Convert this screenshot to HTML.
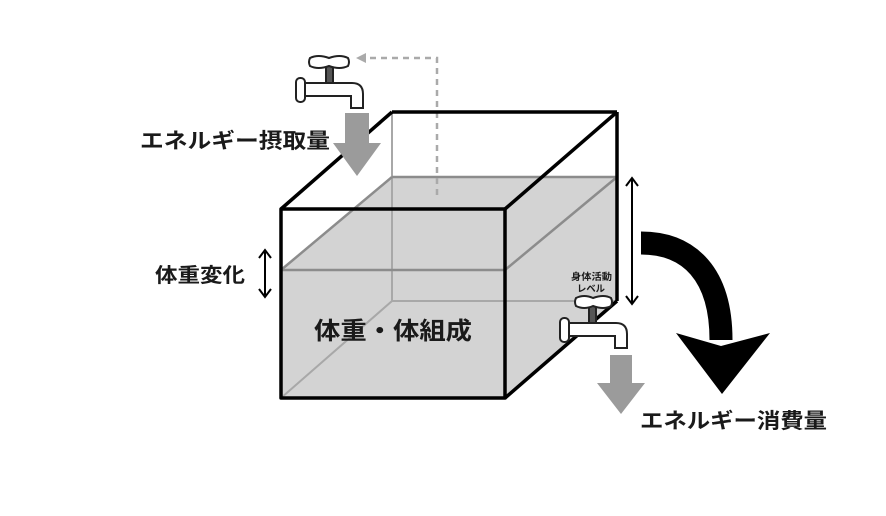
<!DOCTYPE html>
<html><head><meta charset="utf-8"><style>
html,body{margin:0;padding:0;background:#fff;}
svg{display:block;}
text{font-family:"Liberation Sans","Noto Sans CJK JP",sans-serif;fill:#1a1a1a;font-weight:bold;}
</style></head><body>
<svg width="886" height="516" viewBox="0 0 886 516" xmlns="http://www.w3.org/2000/svg">
<rect width="886" height="516" fill="#fff"/>
<polygon points="281,270 392,177 617,177 617,301 505,398 281,398" fill="#d3d3d3"/>
<g stroke="#a8a8a8" stroke-width="2" fill="none">
<line x1="392" y1="177" x2="392" y2="301"/>
<line x1="392" y1="301" x2="617" y2="301"/>
<line x1="281" y1="398" x2="392" y2="301"/>
<line x1="392" y1="112" x2="392" y2="177"/>
</g>
<g stroke="#8c8c8c" stroke-width="2.5" fill="none">
<line x1="281" y1="270" x2="505" y2="270"/>
<line x1="281" y1="270" x2="392" y2="177"/>
<line x1="392" y1="177" x2="617" y2="177"/>
<line x1="505" y1="270" x2="617" y2="177"/>
</g>
<polyline points="437,195 437,58 362,58" fill="none" stroke="#aaa" stroke-width="2.5" stroke-dasharray="6,5"/>
<polygon points="356,58 366,53 366,63" fill="#aaa"/>
<g stroke="#000" stroke-width="3.5" fill="none" stroke-linejoin="round">
<rect x="281" y="209" width="224" height="189"/>
<line x1="281" y1="209" x2="392" y2="112"/>
<line x1="392" y1="112" x2="617" y2="112"/>
<line x1="505" y1="209" x2="617" y2="112"/>
<line x1="617" y1="112" x2="617" y2="301"/>
<line x1="505" y1="398" x2="617" y2="301"/>
</g>
<g stroke="#222" stroke-width="2" fill="#fff">
<rect x="296" y="78" width="9" height="24" rx="4"/>
<path d="M305,83 H352 Q363,83 363,94 V108 H351 V96 H305 Z"/>
<rect x="326" y="66" width="7" height="17" fill="#555"/>
<path d="M310,58 Q318,54 329,58 Q340,54 348,58 Q350,62 348,66 Q340,70 329,66 Q318,70 310,66 Q308,62 310,58 Z"/>
</g>
<polygon points="345,113 369,113 369,143 381,143 357,176 333,143 345,143" fill="#9b9b9b"/>
<g stroke="#222" stroke-width="2" fill="#fff">
<rect x="560" y="318" width="9" height="24" rx="4"/>
<path d="M569,323 H616 Q627,323 627,334 V348 H615 V336 H569 Z"/>
<rect x="589" y="306" width="7" height="17" fill="#555"/>
<path d="M576,298 Q584,294 593,298 Q604,294 611,298 Q613,302 611,306 Q604,310 593,306 Q584,310 576,306 Q574,302 576,298 Z"/>
</g>
<polygon points="610,355 632,355 632,383 645,383 621,414 597,383 610,383" fill="#9b9b9b"/>
<g stroke="#000" stroke-width="2" fill="none">
<line x1="265" y1="252" x2="265" y2="295"/>
<polyline points="259,258 265,250 271,258"/>
<polyline points="259,289 265,297 271,289"/>
<line x1="632" y1="178" x2="632" y2="304"/>
<polyline points="626,186 632,178 638,186"/>
<polyline points="626,296 632,304 638,296"/>
</g>
<path d="M641,243 C690,243 721,275 721,340" fill="none" stroke="#000" stroke-width="23"/>
<polygon points="676,333 721,346 770,333 722,394" fill="#000"/>
<text x="140" y="148" font-size="21" textLength="190" lengthAdjust="spacingAndGlyphs">エネルギー摂取量</text>
<text x="155" y="282" font-size="20" textLength="90" lengthAdjust="spacingAndGlyphs">体重変化</text>
<text x="314" y="339" font-size="24" textLength="158" lengthAdjust="spacingAndGlyphs">体重・体組成</text>
<text x="571" y="280" font-size="9.5" textLength="41" lengthAdjust="spacingAndGlyphs">身体活動</text>
<text x="577" y="292" font-size="9.5" textLength="28" lengthAdjust="spacingAndGlyphs">レベル</text>
<text x="640" y="428" font-size="21" textLength="187" lengthAdjust="spacingAndGlyphs">エネルギー消費量</text>
</svg>
</body></html>
